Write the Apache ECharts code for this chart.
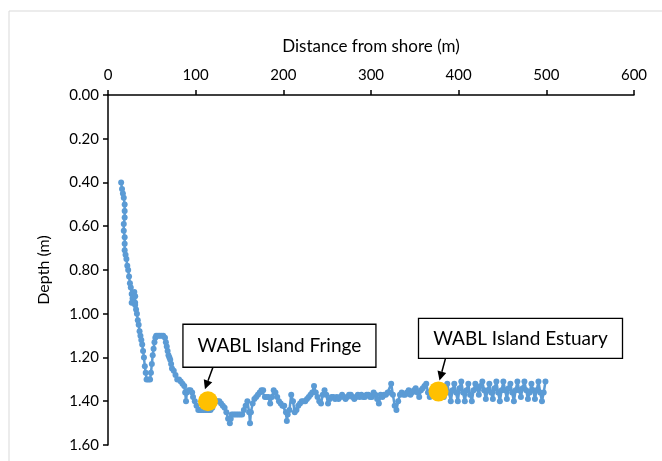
<!DOCTYPE html>
<html><head><meta charset="utf-8">
<script src="https://cdn.jsdelivr.net/npm/echarts@6/dist/echarts.min.js"></script>
<style>html,body{margin:0;padding:0;background:#fff}#c{width:662px;height:461px}</style>
</head><body><div id="c"></div>
<script>
const distance = [15,16,17,18,19,19,19,18,18,19,
 19,19,20,21,22,23,24,25,26,27,
 28,29,30,31,31,29,27,31,32,33,
 34,35,36,37,38,39,40,41,42,43,
 44,46,48,49,50,51,52,53,54,55,
 57,59,61,63,65,66,67,68,69,70,
 71,72,73,75,77,79,81,83,85,87,
 88,89,90,92,94,96,97,99,101,103,
 105,107,109,111,113,115,117,119,121,123,
 125,127,129,131,133,135,137,139,140,141,
 143,145,147,149,151,153,155,157,159,161,
 162,163,165,167,169,171,173,175,177,179,
 181,183,185,187,189,191,193,195,197,199,
 201,203,204,205,207,209,211,213,215,217,
 219,221,223,225,227,229,231,233,235,237,
 239,241,243,245,247,249,251,253,255,257,
 259,261,263,265,267,269,271,273,275,277,
 279,281,283,285,287,289,291,293,295,297,
 299,301,303,305,307,309,311,313,315,317,
 319,321,323,325,327,329,331,333,335,337,
 339,341,343,345,347,349,351,353,355,357,
 359,361,363,365,367,369,371,373,375,377,
 379,381,383,385,387,389,391,393,395,397,
 399,401,403,405,407,409,411,413,415,417,
 419,421,423,425,427,429,431,433,435,437,
 439,441,443,445,447,449,451,453,455,457,
 459,461,463,465,467,469,471,473,475,477,
 479,481,483,485,487,489,491,493,495,497,
 499];
const depth = [0.40,0.43,0.45,0.47,0.50,0.53,0.56,0.59,0.62,0.65,
 0.68,0.71,0.73,0.75,0.78,0.80,0.83,0.86,0.88,0.91,
 0.93,0.92,0.90,0.92,0.95,0.95,0.95,0.96,0.98,1.00,
 1.03,1.05,1.08,1.10,1.12,1.14,1.17,1.20,1.24,1.27,
 1.30,1.30,1.30,1.27,1.23,1.19,1.16,1.13,1.11,1.10,
 1.10,1.10,1.10,1.10,1.11,1.13,1.15,1.17,1.19,1.20,
 1.21,1.23,1.25,1.26,1.28,1.30,1.30,1.31,1.32,1.33,
 1.36,1.40,1.36,1.35,1.35,1.36,1.38,1.40,1.42,1.44,
 1.44,1.44,1.44,1.44,1.44,1.44,1.44,1.43,1.40,1.40,
 1.40,1.40,1.41,1.42,1.43,1.45,1.48,1.50,1.48,1.46,
 1.46,1.46,1.46,1.46,1.46,1.46,1.44,1.42,1.40,1.45,
 1.50,1.45,1.41,1.39,1.38,1.37,1.36,1.35,1.35,1.38,
 1.38,1.38,1.41,1.38,1.35,1.36,1.38,1.40,1.41,1.42,
 1.42,1.45,1.49,1.46,1.44,1.37,1.40,1.45,1.44,1.42,
 1.41,1.40,1.40,1.40,1.39,1.38,1.37,1.36,1.33,1.36,
 1.38,1.40,1.41,1.37,1.35,1.37,1.41,1.39,1.38,1.38,
 1.39,1.38,1.39,1.38,1.37,1.38,1.39,1.38,1.37,1.37,
 1.38,1.39,1.38,1.37,1.38,1.37,1.38,1.38,1.37,1.37,
 1.38,1.38,1.36,1.37,1.39,1.41,1.37,1.38,1.37,1.37,
 1.36,1.36,1.32,1.37,1.42,1.44,1.40,1.37,1.36,1.37,
 1.37,1.36,1.35,1.37,1.36,1.35,1.34,1.36,1.38,1.35,
 1.34,1.33,1.32,1.36,1.38,1.35,1.35,1.36,1.36,1.36,
 1.34,1.35,1.38,1.34,1.32,1.36,1.40,1.35,1.32,1.36,
 1.40,1.34,1.31,1.36,1.40,1.35,1.32,1.37,1.40,1.35,
 1.32,1.34,1.37,1.33,1.31,1.35,1.39,1.35,1.32,1.36,
 1.39,1.34,1.31,1.36,1.40,1.35,1.31,1.35,1.39,1.34,
 1.32,1.36,1.40,1.35,1.31,1.35,1.38,1.34,1.31,1.35,
 1.39,1.36,1.32,1.35,1.39,1.35,1.31,1.36,1.40,1.36,
 1.31];
const siteNames = ["WABL Island Fringe", "WABL Island Estuary"];
const siteDistance = [114, 377];
const siteDepth = [1.40, 1.355];
const xTicks = [0, 100, 200, 300, 400, 500, 600];
const yTicks = [0, 0.2, 0.4, 0.6, 0.8, 1.0, 1.2, 1.4, 1.6];

const FONT = 'Lato';
const chart = echarts.init(document.getElementById('c'), null, {renderer: 'canvas'});
const profile = distance.map((d, i) => [d, depth[i]]);
const sites = siteDistance.map((d, i) => [d, siteDepth[i]]);

chart.setOption({
  animation: false,
  backgroundColor: '#fff',
  grid: {left: 108, right: 28, top: 95, bottom: 16},
  xAxis: {
    type: 'value', position: 'top', min: xTicks[0], max: xTicks[xTicks.length-1], interval: 100,
    name: 'Distance from shore (m)', nameLocation: 'middle', nameGap: 40,
    nameTextStyle: {fontFamily: FONT, fontSize: 17, color: '#000'},
    axisLine: {onZero: false, lineStyle: {color: '#000', width: 1.5}},
    axisTick: {show: true, inside: false, length: 5, lineStyle: {color: '#000', width: 1.5}},
    axisLabel: {fontFamily: FONT, fontSize: 15, color: '#000', margin: 12},
    splitLine: {show: false}
  },
  yAxis: {
    type: 'value', inverse: true, min: 0, max: 1.6, interval: 0.2,
    name: 'Depth (m)', nameLocation: 'middle', nameGap: 56, nameRotate: 90,
    nameTextStyle: {fontFamily: FONT, fontSize: 16, color: '#000'},
    axisLine: {show: true, onZero: false, lineStyle: {color: '#000', width: 1.5}},
    axisTick: {show: true, inside: false, length: 5, lineStyle: {color: '#000', width: 1.5}},
    axisLabel: {fontFamily: FONT, fontSize: 15, color: '#000', margin: 9,
      formatter: v => v.toFixed(2)},
    splitLine: {show: false}
  },
  series: [
    {type: 'line', data: profile, symbol: 'circle', symbolSize: 6, showSymbol: true,
     lineStyle: {color: '#5b9bd5', width: 2.5}, itemStyle: {color: '#5b9bd5'}, z: 2},
    {type: 'scatter', data: sites, symbol: 'circle', symbolSize: 20,
     itemStyle: {color: '#ffc000', opacity: 1}, z: 3}
  ]
});

const annot = [
  {box: [-25, -77, 193, 43], tail: [5, -34], tip: [-3, -12]},
  {box: [-20, -73, 204, 40], tail: [7, -33], tip: [1, -11]}
];
const graphics = [{
  type: 'rect', shape: {x: 9, y: 11, width: 700, height: 500},
  style: {fill: 'none', stroke: '#d9d9d9', lineWidth: 1}, z: -1
}];
sites.forEach((s, i) => {
  const p = chart.convertToPixel({gridIndex: 0}, s);
  const a = annot[i];
  const bx = p[0] + a.box[0], by = p[1] + a.box[1];
  graphics.push({type: 'rect', shape: {x: bx, y: by, width: a.box[2], height: a.box[3]},
    style: {fill: '#fff', stroke: '#000', lineWidth: 1.3}, z: 10});
  graphics.push({type: 'text', x: bx + a.box[2] / 2, y: by + a.box[3] / 2,
    style: {text: siteNames[i], fontFamily: FONT, fontSize: 19, fill: '#000',
      align: 'center', verticalAlign: 'middle'}, z: 11});
  const t0 = [p[0] + a.tail[0], p[1] + a.tail[1]];
  const t1 = [p[0] + a.tip[0], p[1] + a.tip[1]];
  const dx = t1[0] - t0[0], dy = t1[1] - t0[1];
  const L = Math.sqrt(dx*dx + dy*dy), ux = dx / L, uy = dy / L;
  const hl = 9, hw = 4.5;
  const base = [t1[0] - ux*hl, t1[1] - uy*hl];
  graphics.push({type: 'line', shape: {x1: t0[0], y1: t0[1], x2: base[0], y2: base[1]},
    style: {stroke: '#000', lineWidth: 1.5}, z: 10});
  graphics.push({type: 'polygon', shape: {points: [t1,
    [base[0] - uy*hw, base[1] + ux*hw], [base[0] + uy*hw, base[1] - ux*hw]]},
    style: {fill: '#000'}, z: 10});
});
chart.setOption({graphic: graphics});
</script></body></html>
